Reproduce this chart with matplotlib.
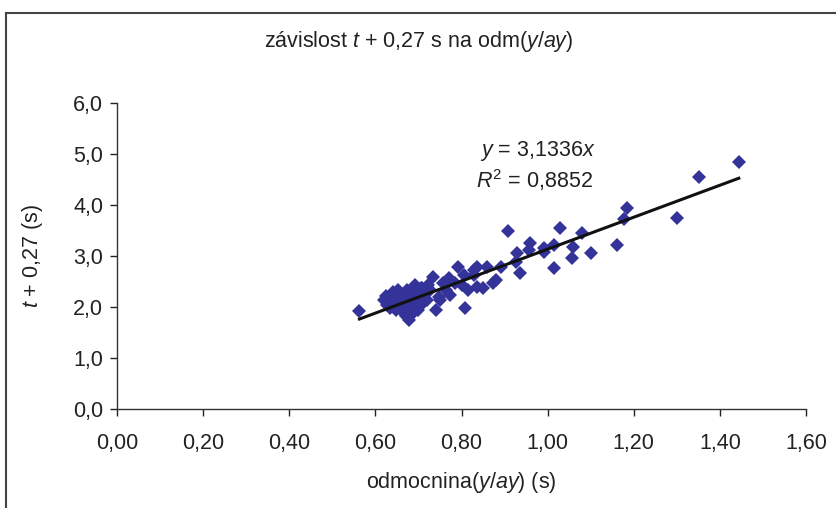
import matplotlib
matplotlib.use("Agg")
import matplotlib.pyplot as plt
import numpy as np

plt.rcParams['font.family'] = ['Liberation Sans', 'DejaVu Sans']
plt.rcParams['mathtext.fontset'] = 'custom'
plt.rcParams['mathtext.rm'] = 'Liberation Sans'
plt.rcParams['mathtext.it'] = 'Liberation Sans:italic'

# measured values: square root of (y/ay) and t + 0,27 s
odm = [0.563, 0.619, 0.626, 0.635, 0.642, 0.649, 0.653, 0.658, 0.665, 0.670,
       0.658, 0.647, 0.674, 0.681, 0.686, 0.677, 0.670, 0.677, 0.688, 0.695,
       0.700, 0.705, 0.693, 0.709, 0.716, 0.723, 0.635, 0.624, 0.663, 0.684,
       0.698, 0.705, 0.653, 0.640,
       0.733, 0.709, 0.763, 0.774, 0.747, 0.740, 0.809, 0.816, 0.802, 0.791,
       0.805, 0.828, 0.837, 0.786, 0.758, 0.751, 0.770, 0.721, 0.728,
       0.837, 0.828, 0.849, 0.860, 0.872, 0.879, 0.891, 0.926, 0.909, 0.930,
       0.937, 0.956, 0.960, 0.991, 0.991, 1.014, 1.014, 1.028, 1.056, 1.060,
       1.079, 1.100, 1.160, 1.177, 1.184, 1.300, 1.351, 1.444]
t27 = [1.93, 2.14, 2.04, 2.18, 2.08, 2.22, 2.10, 2.27, 2.16, 2.04,
       1.98, 1.94, 2.33, 2.22, 2.10, 1.90, 1.82, 1.75, 2.00, 2.29,
       2.18, 2.37, 2.43, 2.14, 2.25, 2.43, 1.98, 2.22, 1.90, 1.86,
       1.94, 2.04, 2.33, 2.29,
       2.59, 2.37, 2.33, 2.24, 2.20, 1.94, 1.98, 2.33, 2.43, 2.78,
       2.63, 2.73, 2.39, 2.47, 2.47, 2.14, 2.57, 2.14, 2.33,
       2.78, 2.63, 2.37, 2.78, 2.47, 2.53, 2.78, 2.88, 3.49, 3.06,
       2.67, 3.12, 3.25, 3.08, 3.16, 3.22, 2.76, 3.55, 2.96, 3.18,
       3.45, 3.06, 3.22, 3.73, 3.94, 3.75, 4.55, 4.84]

slope = 3.1336
r2 = 0.8852

xticks = np.arange(0, 1.61, 0.2)
yticks = np.arange(0, 6.1, 1)
fs = 15.5

fig = plt.figure(figsize=(8.37, 5.08), dpi=100)
ax = fig.add_axes([117/837, 1 - 409/508, 689/837, 306/508])

ax.plot(odm, t27, linestyle='none', marker='D', markersize=7.5,
        color='#333399', markeredgewidth=0, zorder=3)

xl = np.array([min(odm), max(odm)])
ax.plot(xl, slope * xl, color='#111111', linewidth=2.2, zorder=4)

ax.set_xlim(0, 1.6)
ax.set_ylim(0, 6)
ax.set_xticks(xticks)
ax.set_yticks(yticks)
ax.set_xticklabels([('%.2f' % v).replace('.', ',') for v in xticks])
ax.set_yticklabels([('%.1f' % v).replace('.', ',') for v in yticks])
ax.tick_params(direction='out', length=5, width=1, labelsize=fs, colors='#222222', pad=5)
ax.tick_params(axis='x', pad=12)

for s in ['top', 'right']:
    ax.spines[s].set_visible(False)
for s in ['left', 'bottom']:
    ax.spines[s].set_color('#333333')
    ax.spines[s].set_linewidth(1)

ax.set_xlabel('odmocnina($y$/$ay$) (s)', fontsize=fs, labelpad=12, color='#222222')
ax.set_ylabel('$t$ + 0,27 (s)', fontsize=fs, labelpad=20, color='#222222')

ax.text(0.844, 5.06, '$y$ = 3,1336$x$', fontsize=fs, ha='left', va='center', color='#222222')
ax.text(0.833, 4.49, '$R^2$ = 0,8852', fontsize=fs, ha='left', va='center', color='#222222')

fig.text(0.5, 1 - 42/508, 'závislost $t$ + 0,27 s na odm($y$/$ay$)',
         fontsize=fs, ha='center', va='center', color='#222222')

# chart area border (left and top edges)
fig.add_artist(plt.Line2D([6/837, 6/837], [0, 1 - 13/508], color='#444444', linewidth=1.5))
fig.add_artist(plt.Line2D([6/837, 1], [1 - 13/508, 1 - 13/508], color='#444444', linewidth=1.5))

fig.savefig('out.png', dpi=100)
